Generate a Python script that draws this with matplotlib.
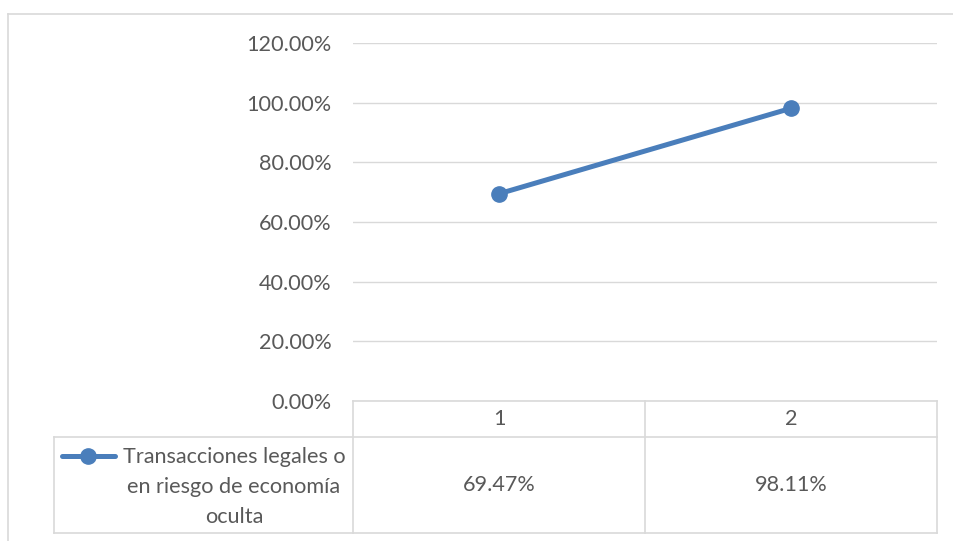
import matplotlib
matplotlib.use("Agg")
import matplotlib.pyplot as plt
from matplotlib.lines import Line2D
from matplotlib.ticker import FuncFormatter, MultipleLocator

plt.rcParams['font.family'] = ['Lato', 'DejaVu Sans']

categories = ["1", "2"]
values = [0.6947, 0.9811]
series_label = "Transacciones legales o\nen riesgo de economía\noculta"
value_labels = ["69.47%", "98.11%"]

W, H = 954, 541
TEXT = "#595959"
GRID = "#d9d9d9"
BLUE = "#4a7ebb"
FS = 15.6
LW = 3.6
MS = 11

fig = plt.figure(figsize=(W / 100, H / 100), dpi=100)

def fx(px):
    return px / W

def fy(py):
    return (H - py) / H

# plot area
left, right, top, bottom = 353, 937, 43, 401
ax = fig.add_axes([fx(left), fy(bottom), fx(right - left), fy(top) - fy(bottom)])
x = list(range(len(categories)))
ax.plot(x, values, color=BLUE, lw=LW, marker="o", ms=MS, solid_capstyle="round")
ax.set_xlim(-0.5, len(categories) - 0.5)
ax.set_ylim(0, 1.2)
ax.yaxis.set_major_locator(MultipleLocator(0.2))
ax.yaxis.set_major_formatter(FuncFormatter(lambda v, p: f"{v * 100:.2f}%"))
ax.grid(axis="y", color=GRID, lw=1)
ax.set_axisbelow(True)
for s in ax.spines.values():
    s.set_visible(False)
ax.tick_params(axis="y", length=0, pad=15.5, labelsize=FS, labelcolor=TEXT)
ax.tick_params(axis="x", length=0, labelbottom=False)

# chart border
fig.add_artist(Line2D([fx(8), fx(8)], [fy(14), fy(H + 5)], color=GRID, lw=1.2))
fig.add_artist(Line2D([fx(8), fx(W + 5)], [fy(14), fy(14)], color=GRID, lw=1.2))

# data table
row1_top, row2_top, row2_bot = 401, 437, 533
tbl_left = 54
col_edges = [left + (right - left) * i / len(categories) for i in range(len(categories) + 1)]

def hline(y, x0, x1):
    fig.add_artist(Line2D([fx(x0), fx(x1)], [fy(y), fy(y)], color=GRID, lw=1.2))

def vline(x0, y0, y1):
    fig.add_artist(Line2D([fx(x0), fx(x0)], [fy(y0), fy(y1)], color=GRID, lw=1.2))

hline(row1_top, left, right)
hline(row2_top, tbl_left, right)
hline(row2_bot, tbl_left, right)
for ce in col_edges:
    vline(ce, row1_top, row2_bot)
vline(tbl_left, row2_top, row2_bot)

for i, cat in enumerate(categories):
    cx = (col_edges[i] + col_edges[i + 1]) / 2
    fig.text(fx(cx), fy((row1_top + row2_top) / 2), cat, ha="center", va="center",
             fontsize=FS, color=TEXT)
    fig.text(fx(cx), fy((row2_top + row2_bot) / 2), value_labels[i], ha="center",
             va="center", fontsize=FS, color=TEXT)

# legend key and series name
key_y = 456
fig.add_artist(Line2D([fx(62), fx(115)], [fy(key_y), fy(key_y)], color=BLUE, lw=LW,
                      solid_capstyle="round"))
fig.add_artist(Line2D([fx(88)], [fy(key_y)], color=BLUE, marker="o", ms=MS, lw=0))
fig.text(fx(234), fy(487), series_label, ha="center", va="center", fontsize=FS,
         color=TEXT, linespacing=1.6)

fig.savefig("out.png", dpi=100, facecolor="white")
